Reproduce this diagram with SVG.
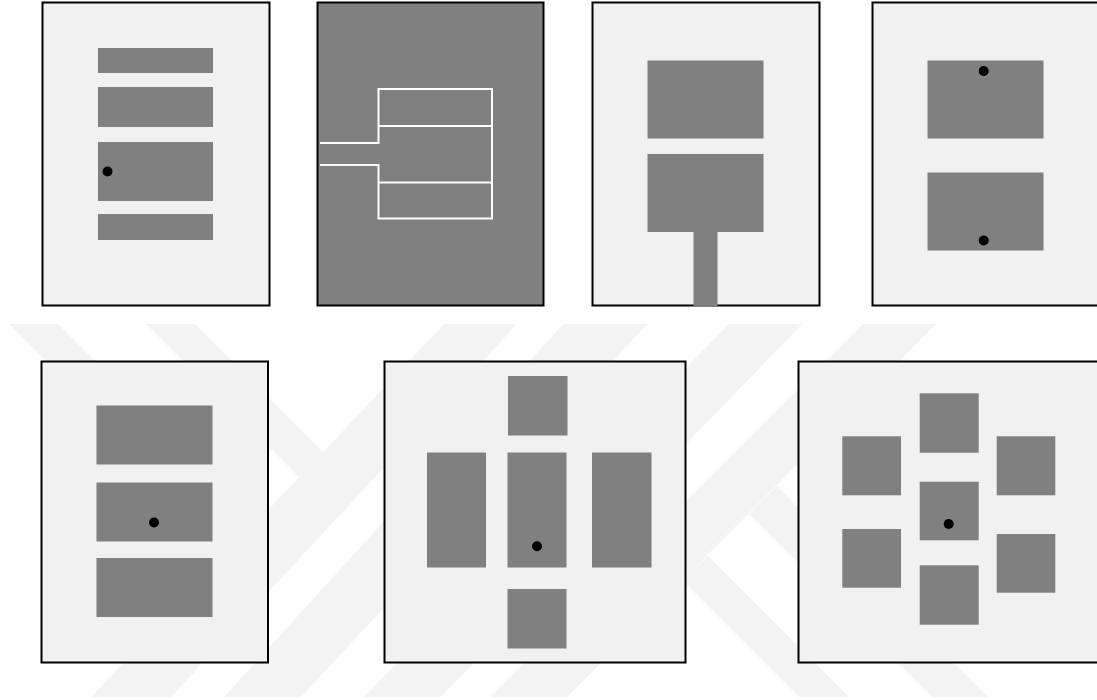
<svg xmlns="http://www.w3.org/2000/svg" width="1097" height="700" viewBox="0 0 1097 700">
  <style>
    .panel { fill: #f1f1f1; stroke: #000; stroke-width: 2; }
    .dark { fill: #808080; stroke: #000; stroke-width: 2; }
    .blk { fill: #808080; }
    .dot { fill: #000; }
    .wm { fill: #f3f3f3; }
    .wire { fill: none; stroke: #fff; stroke-width: 2; }
  </style>
  <defs>
    <clipPath id="wmclip"><rect x="0" y="324" width="1097" height="373"/></clipPath>
  </defs>
  <rect x="0" y="0" width="1097" height="700" fill="#fff"/>
  <g id="watermark" clip-path="url(#wmclip)">
    <polygon class="wm" points="448,320 521,320 171,697 91,697"/>
    <polygon class="wm" points="567,320 651,320 301,697 224,697"/>
    <polygon class="wm" points="733,320 806,320 441,697 364,697"/>
    <polygon class="wm" points="867,320 940,320 567,697 490,697"/>
    <polygon class="wm" points="5,320 54,320 257,523 233,548"/>
    <polygon class="wm" points="142,320 191,320 324,453 300,478"/>
    <polygon class="wm" points="708,556 849,697 799,697 682,580"/>
    <polygon class="wm" points="777,486 988,697 932,697 749,514"/>
  </g>
  <g id="panel1">
    <rect class="panel" x="42.5" y="2.5" width="227" height="303"/>
    <rect class="blk" x="98" y="48" width="115" height="25"/>
    <rect class="blk" x="98" y="87" width="115" height="40"/>
    <rect class="blk" x="98" y="142" width="115" height="59"/>
    <rect class="blk" x="98" y="214" width="115" height="26"/>
    <circle class="dot" cx="107.5" cy="171.5" r="5"/>
  </g>
  <g id="panel2">
    <rect class="dark" x="317.5" y="2.5" width="226" height="303"/>
    <path class="wire" d="M320,143 H378.5 V89 H492 V218.5 H378.5 V165 H320"/>
    <line class="wire" x1="378.5" y1="126" x2="492" y2="126"/>
    <line class="wire" x1="378.5" y1="182.5" x2="492" y2="182.5"/>
  </g>
  <g id="panel3">
    <rect class="panel" x="592.5" y="2.5" width="227" height="303"/>
    <rect class="blk" x="647.5" y="60.5" width="116" height="78"/>
    <rect class="blk" x="647.5" y="154" width="116" height="78"/>
    <rect class="blk" x="693.5" y="231" width="24" height="75"/>
  </g>
  <g id="panel4">
    <rect class="panel" x="872.5" y="2.5" width="240" height="303"/>
    <rect class="blk" x="927.5" y="60.5" width="116" height="78"/>
    <rect class="blk" x="927.5" y="172.5" width="116" height="78"/>
    <circle class="dot" cx="983.7" cy="71" r="5"/>
    <circle class="dot" cx="983.7" cy="240.5" r="5"/>
  </g>
  <g id="panel5">
    <rect class="panel" x="41.5" y="361.5" width="226.5" height="301"/>
    <rect class="blk" x="96.5" y="405.5" width="116" height="59"/>
    <rect class="blk" x="96.5" y="482.5" width="116" height="59"/>
    <rect class="blk" x="96.5" y="558" width="116" height="59"/>
    <circle class="dot" cx="154" cy="522.5" r="5"/>
  </g>
  <g id="panel6">
    <rect class="panel" x="384.5" y="361.5" width="301" height="301"/>
    <rect class="blk" x="508" y="376" width="59.5" height="59.5"/>
    <rect class="blk" x="427" y="452.5" width="59" height="115"/>
    <rect class="blk" x="507.5" y="452.5" width="59" height="115"/>
    <rect class="blk" x="592" y="452.5" width="59.5" height="115"/>
    <rect class="blk" x="507.5" y="589" width="59" height="59.5"/>
    <circle class="dot" cx="537" cy="546.3" r="5"/>
  </g>
  <g id="panel7">
    <rect class="panel" x="798.5" y="361.5" width="310" height="301"/>
    <rect class="blk" x="919.7" y="393.3" width="59" height="59.4"/>
    <rect class="blk" x="842.3" y="436.3" width="58.7" height="59"/>
    <rect class="blk" x="996.7" y="436.3" width="58.6" height="59"/>
    <rect class="blk" x="919.7" y="481.7" width="59" height="58.6"/>
    <rect class="blk" x="842.3" y="529" width="58.7" height="58.7"/>
    <rect class="blk" x="996.7" y="534" width="58.6" height="58.7"/>
    <rect class="blk" x="919.7" y="565.3" width="59" height="59.4"/>
    <circle class="dot" cx="948.7" cy="524" r="5"/>
  </g>
  <g id="connectors"/>
</svg>
